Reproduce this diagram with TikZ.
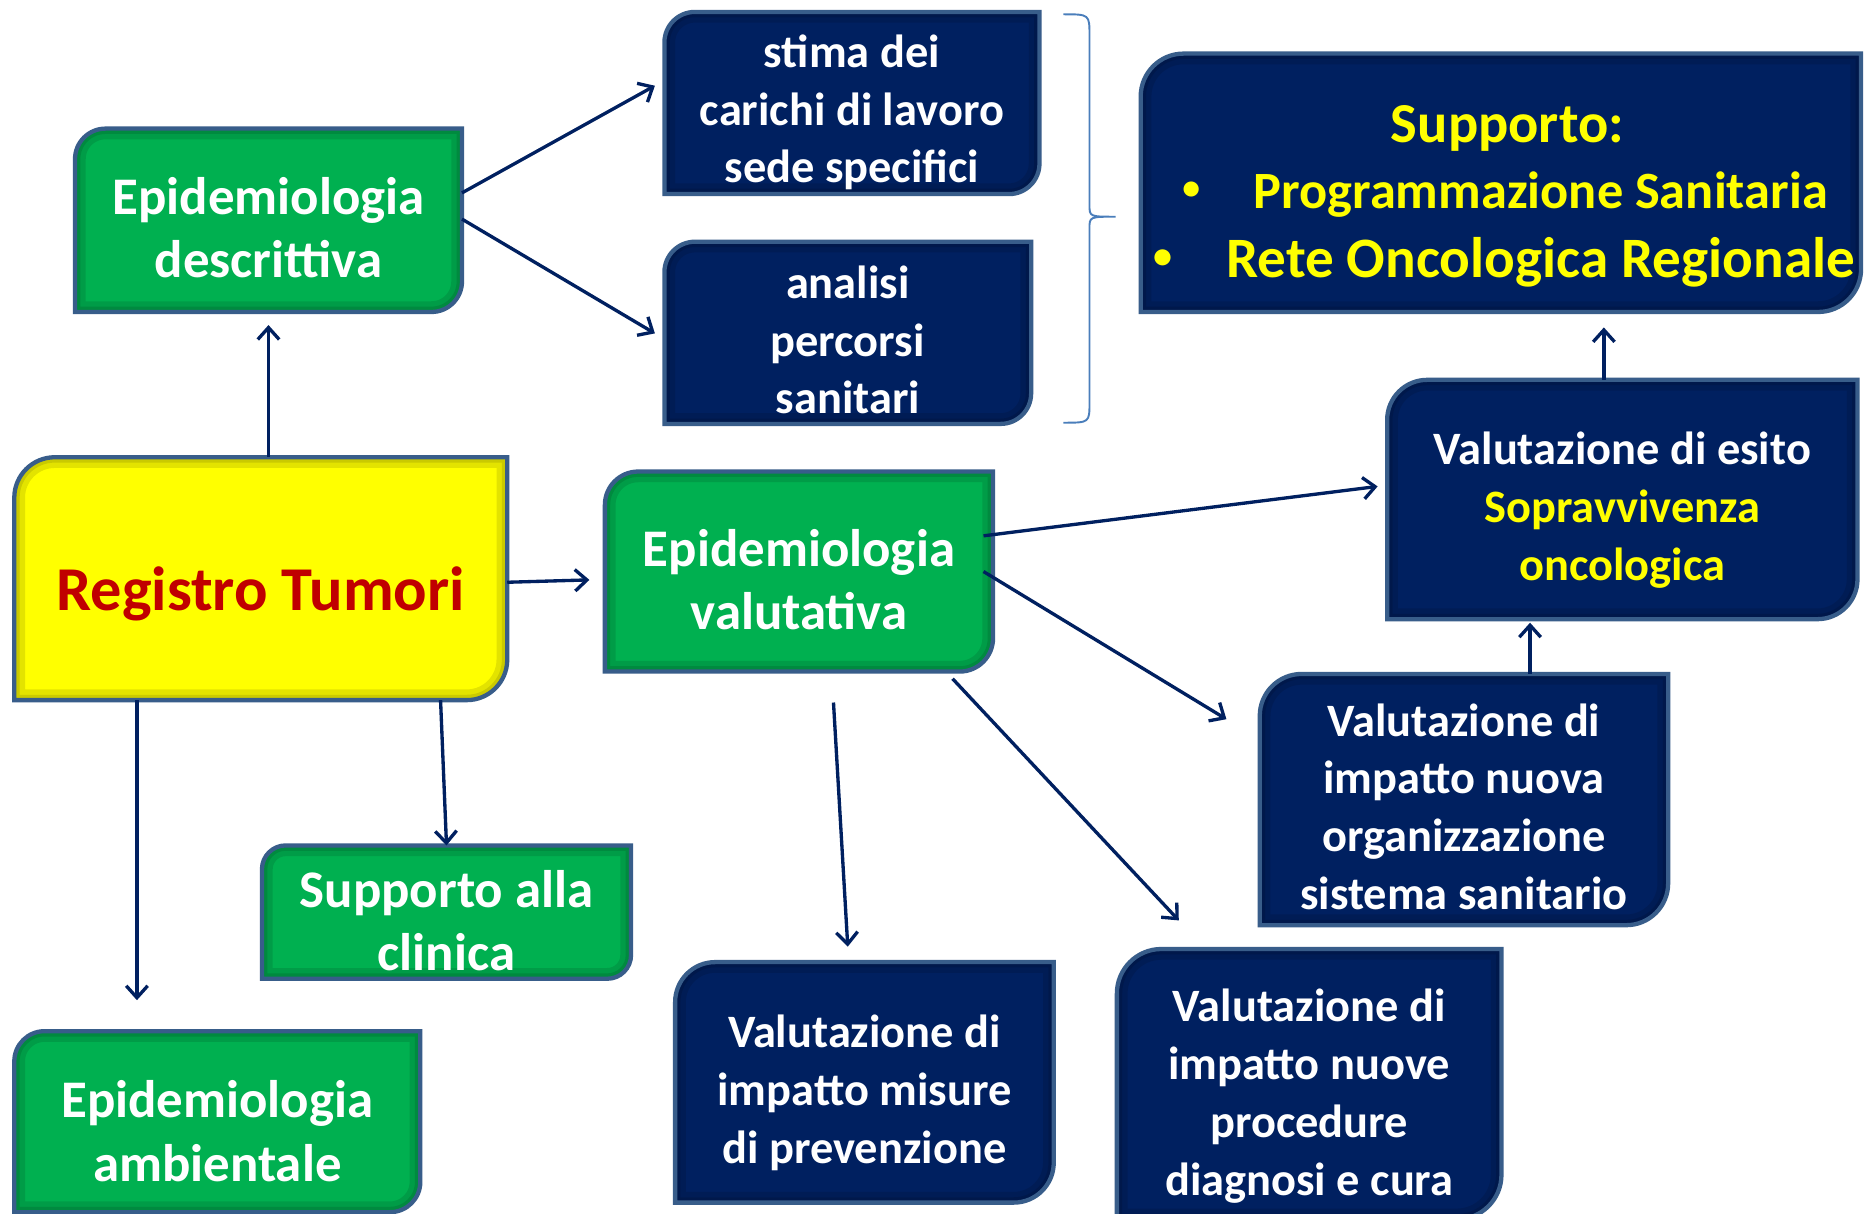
\documentclass[tikz,border=0pt]{standalone}
\usepackage{fontspec}
\setmainfont{Carlito}
\usetikzlibrary{arrows.meta,calc,backgrounds}
\definecolor{navy}{HTML}{002060}
\definecolor{grn}{HTML}{00B050}
\definecolor{yel}{HTML}{FFFF00}
\definecolor{bord}{HTML}{385D8A}
\definecolor{redt}{HTML}{C00000}
\definecolor{brc}{HTML}{4A7EBB}
\tikzset{
 boxnode/.style={shape=rectangle, draw=none, inner sep=0pt, outer sep=0pt},
 boxtext/.style={inner sep=0pt, outer sep=0pt, align=center, text=white},
 gtxt/.style={font=\fontsize{22.2}{26.5}\selectfont\bfseries},
 btxt/.style={font=\fontsize{19.5}{24.25}\selectfont\bfseries},
 conn/.style={draw=navy, line width=1.4pt, -{Straight Barb[length=5pt,width=9pt,line width=1.4pt]}},
 edgeline/.style={draw=bord, line width=1.8pt},
 freetext/.style={inner sep=0pt, outer sep=0pt},
}
% #1 name, #2..#5 box corners (px), #6 text style, #7 text, #8 text offset down (px)
\newcommand{\bx}[8]{\node[boxnode,minimum width={(#4-#2)*0.5pt},minimum height={(#5-#3)*0.5pt},anchor=north west] (#1) at (#2,#3) {};
\node[boxtext,#6] (#1t) at ($(#1.center)+(0,#8)$) {#7};}
\newcommand{\shpath}[2]{([xshift=#2]#1.north west) -- (#1.north east) -- ([yshift=#2]#1.south east) arc[start angle=0,end angle=-90,radius=#2] -- (#1.south west) -- ([yshift=-#2]#1.north west) arc[start angle=180,end angle=90,radius=#2] -- cycle}
\newcommand{\shp}[3]{\begin{scope}[on background layer]
\fill[#2] \shpath{#1}{#3};
\begin{scope}\clip \shpath{#1}{#3};
\draw[black,opacity=0.11,line width=9pt] \shpath{#1}{#3};
\draw[black,opacity=0.11,line width=4.5pt] \shpath{#1}{#3};
\end{scope}
\draw[edgeline] \shpath{#1}{#3};
\end{scope}}
\begin{document}
\begin{tikzpicture}[x=0.5pt,y=-0.5pt]
\useasboundingbox (0,0) rectangle (1568,1019);
\begin{scope}[on background layer]\fill[white] (0,0) rectangle (1568,1019);\end{scope}

\bx{ed}{63}{108}{388}{262}{gtxt}{Epidemiologia\\descrittiva}{6}
\shp{ed}{grn}{12.8pt}
\bx{sd}{558}{10}{873}{163}{btxt}{stima dei\\carichi di lavoro\\sede specifici}{8}
\shp{sd}{navy}{12.8pt}
\bx{ap}{558}{203}{866}{356}{btxt}{analisi\\percorsi\\sanitari}{6}
\shp{ap}{navy}{12.8pt}
\bx{sp}{958}{45}{1563}{262}{}{}{0}
\shp{sp}{navy}{18pt}
\bx{rt}{12}{384}{426}{588}{font=\fontsize{26.2}{30}\selectfont\bfseries,text=redt}{Registro Tumori}{13}
\shp{rt}{yel}{17pt}
\bx{ev}{508}{396}{834}{564}{gtxt}{Epidemiologia\\valutativa}{7}
\shp{ev}{grn}{14pt}
\bx{es}{1165}{319}{1560}{520}{btxt}{Valutazione di esito\\\textcolor{yel}{Sopravvivenza}\\\textcolor{yel}{oncologica}}{9}
\shp{es}{navy}{16.8pt}
\bx{io}{1058}{566}{1401}{777}{btxt}{Valutazione di\\impatto nuova\\organizzazione\\sistema sanitario}{6}
\shp{io}{navy}{17.6pt}
\bx{sc}{220}{710}{530}{822}{gtxt}{Supporto alla\\clinica}{7}
\shp{sc}{grn}{10pt}
\bx{ea}{12}{866}{353}{1018}{gtxt}{Epidemiologia\\ambientale}{8}
\shp{ea}{grn}{12.7pt}
\bx{vm}{567}{808}{885}{1010}{btxt}{Valutazione di\\impatto misure\\di prevenzione}{9}
\shp{vm}{navy}{16.8pt}
\bx{np}{938}{797}{1261}{1024}{btxt}{Valutazione di\\impatto nuove\\procedure\\diagnosi e cura}{10}
\shp{np}{navy}{18.7pt}

% Supporto texts
\node[freetext,text=yel,font=\fontsize{23.7}{28}\selectfont\bfseries] (sp1) at (1266,108) {Supporto:};
\node[freetext,anchor=west,text=yel,font=\fontsize{22}{26}\selectfont\bfseries] (sp2) at (993,163) {\makebox[30pt][l]{\raisebox{3.5pt}{\fontsize{15}{15}\selectfont •}}Programmazione Sanitaria};
\node[freetext,anchor=west,text=yel,font=\fontsize{24}{28}\selectfont\bfseries] (sp3) at (969,220) {\makebox[30.5pt][l]{\raisebox{3.8pt}{\fontsize{16}{16}\selectfont •}}Rete Oncologica Regionale};

% brace
\draw[brc, line width=0.8pt] (893,12) .. controls (915,12) .. (915,30) -- (915,172) .. controls (915,182) .. (937,182) .. controls (915,182) .. (915,192) -- (915,338) .. controls (915,355) .. (893,355);

% connectors
\draw[conn] ($(ed.north east)+(0,54)$) -- ($(sd.north west)+(-8,62)$);
\draw[conn] ($(ed.north east)+(0,76)$) -- ($(ap.north west)+(-8,77)$);
\draw[conn] (ed.south |- rt.north) -- ($(ed.south)+(0,11)$);
\draw[conn] ($(rt.east)+(0,3)$) -- ($(ev.west)+(-13,7)$);
\draw[conn] ($(rt.south west)+(103,0)$) -- ($(ea.north west)+(103,-26)$);
\draw[conn] ($(rt.south east)+(-56,0)$) -- (sc.north);
\draw[conn] ($(ev.north east)+(-8,54)$) -- ($(es.west)+(-8,-11)$);
\draw[conn] ($(ev.east)+(-8,0)$) -- ($(io.north west)+(-28,38)$);
\draw[conn] ($(ev.south east)+(-34,6)$) -- ($(np.north west)+(52,-24)$);
\draw[conn] ($(ev.south west)+(192,26)$) -- ($(vm.north west)+(145,-13)$);
\draw[conn] ($(io.north west)+(227,0)$) -- ($(es.south west)+(120,3)$);
\draw[conn] ($(es.north west)+(182,0)$) -- ($(sp.south west)+(389,13)$);
\end{tikzpicture}
\end{document}
